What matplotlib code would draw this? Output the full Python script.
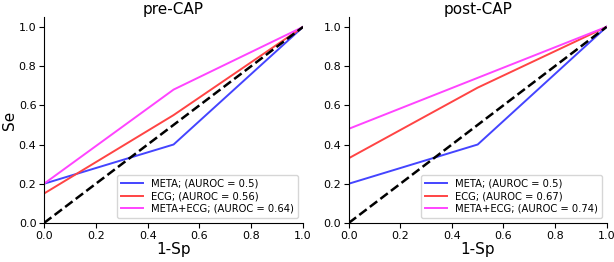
import matplotlib
matplotlib.use('Agg')
import matplotlib.pyplot as plt

fpr = [0.0, 0.5, 1.0]

pre_meta = [0.2, 0.4, 1.0]
pre_ecg = [0.15, 0.55, 1.0]
pre_both = [0.2, 0.68, 1.0]
pre_auc = [0.5, 0.56, 0.64]

post_meta = [0.2, 0.4, 1.0]
post_ecg = [0.33, 0.69, 1.0]
post_both = [0.48, 0.74, 1.0]
post_auc = [0.5, 0.67, 0.74]

names = ['META', 'ECG', 'META+ECG']
colors = ['#4444ff', '#ff4444', '#ff44ff']

fig = plt.figure(figsize=(6.14, 2.62), dpi=100)
ax1 = fig.add_axes([0.0717, 0.149, 0.422, 0.786])
ax2 = fig.add_axes([0.568, 0.149, 0.42, 0.786])

panels = [(ax1, 'pre-CAP', [pre_meta, pre_ecg, pre_both], pre_auc),
          (ax2, 'post-CAP', [post_meta, post_ecg, post_both], post_auc)]

for ax, title, curves, aucs in panels:
    for tpr, name, c, auc in zip(curves, names, colors, aucs):
        ax.plot(fpr, tpr, color=c, lw=1.4, label=f'{name}; (AUROC = {auc})')
    ax.plot([0, 1], [0, 1], 'k--', lw=1.8)
    ax.set_xlim(0, 1)
    ax.set_ylim(0, 1.05)
    ax.set_xticks([0, 0.2, 0.4, 0.6, 0.8, 1.0])
    ax.set_yticks([0, 0.2, 0.4, 0.6, 0.8, 1.0])
    ax.tick_params(labelsize=8, pad=2)
    ax.spines['top'].set_visible(False)
    ax.spines['right'].set_visible(False)
    ax.set_title(title, fontsize=11, pad=2)
    ax.set_xlabel('1-Sp', fontsize=11, labelpad=1)
    ax.legend(loc='lower right', fontsize=7.2, handlelength=2.2, borderpad=0.4, labelspacing=0.25)

ax1.set_ylabel('Se', fontsize=11, labelpad=1)

plt.savefig('out.png', dpi=100)
